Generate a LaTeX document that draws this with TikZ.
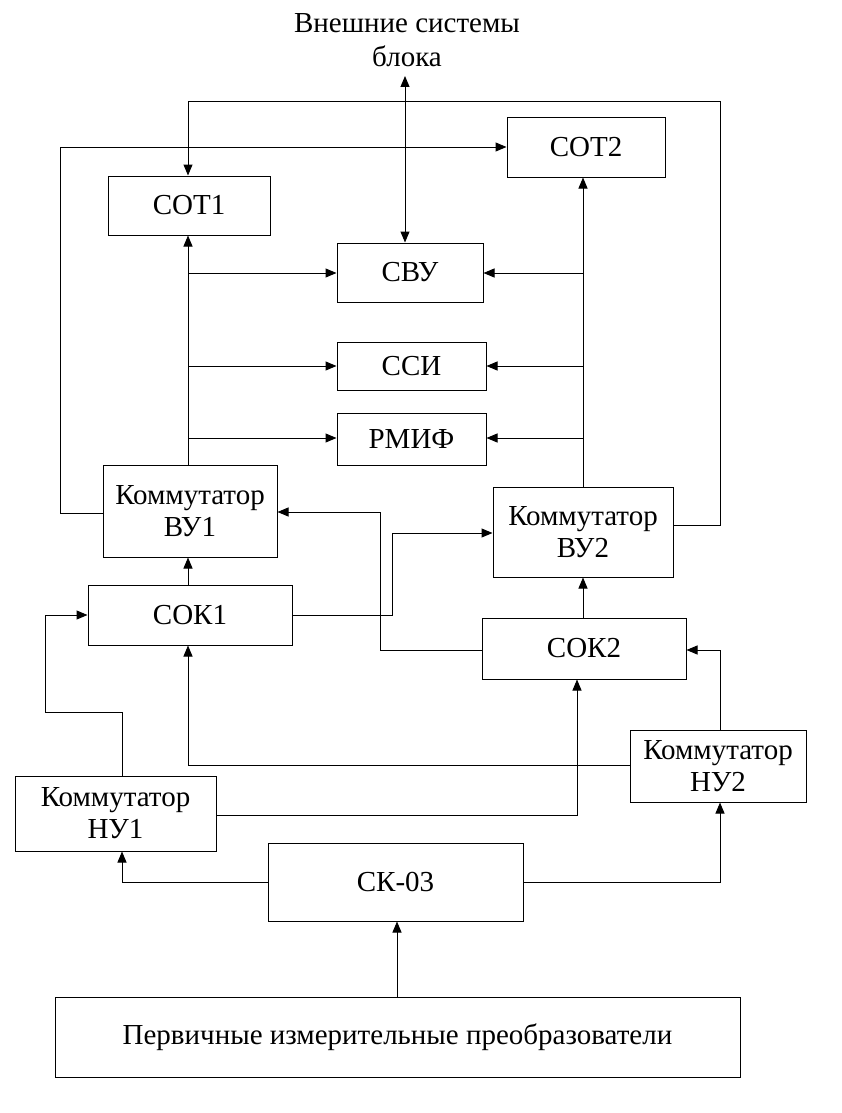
\documentclass[tikz,border=0pt]{standalone}
\usepackage{fontspec}
\setmainfont{Liberation Serif}
\usetikzlibrary{arrows.meta}
\begin{document}
\begin{tikzpicture}[x=1pt,y=-1pt,
  box/.style={draw,line width=1pt,inner sep=0pt,align=center,font=\fontsize{29}{32}\selectfont},
  ln/.style={line width=1pt},
  ar/.style={line width=1pt,-{Triangle[length=11pt,width=9pt]}}]
\useasboundingbox[fill=white] (0,0) rectangle (841,1113);
\newcommand\bx[6]{\node[box,minimum width=#4-#2,minimum height=#5-#3] (#1) at ({(#2+#4)/2},{(#3+#5)/2}) {#6};}
\bx{sot1}{108}{176}{270}{235}{СОТ1}
\bx{sot2}{507}{118}{665}{177}{СОТ2}
\bx{svu}{337}{243}{483}{302}{СВУ}
\bx{ssi}{337}{342}{486}{390}{ССИ}
\bx{rmif}{337}{413}{486}{465}{РМИФ}
\bx{vu1}{103}{465}{277}{557}{Коммутатор\\ВУ1}
\bx{vu2}{493}{487}{673}{577}{Коммутатор\\ВУ2}
\bx{sok1}{88}{585}{292}{645}{СОК1}
\bx{sok2}{482}{618}{686}{679}{СОК2}
\bx{nu2}{630}{730}{806}{802}{Коммутатор\\НУ2}
\bx{nu1}{15}{776}{216}{851}{Коммутатор\\НУ1}
\bx{sk}{268}{843}{523}{921}{СК-03}
\bx{pip}{55}{997}{740}{1077}{Первичные измерительные преобразователи}
\node[font=\fontsize{29}{34}\selectfont,align=center] (ext) at (407,40) {Внешние системы\\блока};
\coordinate (et) at (405,76);
\draw[line width=1pt,{Triangle[length=11pt,width=9pt]}-{Triangle[length=11pt,width=9pt]}] (et) -- (svu.north -| et);
\draw[ar] (vu2.east |- 0,525) -- (720,525) -- (720,102) -- (188,102) -- (sot1.north -| 188,0);
\draw[ar] (vu1.west |- 0,513) -- (60,513) -- (60,147) -- (sot2.west |- 0,147);
\draw[ar] (vu1.north -| 188,0) -- (sot1.south -| 188,0);
\draw[ar] (vu2.north -| 583,0) -- (sot2.south -| 583,0);
\foreach \n/\y in {svu/273,ssi/366,rmif/438}{
  \draw[ar] (188,\y) -- (\n.west |- 0,\y);
  \draw[ar] (583,\y) -- (\n.east |- 0,\y);
}
\draw[ar] (sok1.north -| 188,0) -- (vu1.south -| 188,0);
\draw[ar] (sok2.north -| 583,0) -- (vu2.south -| 583,0);
\draw[ar] (sok1.east |- 0,615) -- (392,615) -- (392,533) -- (vu2.west |- 0,533);
\draw[ar] (sok2.west |- 0,650) -- (380,650) -- (380,512) -- (vu1.east |- 0,512);
\draw[ar] (nu1.north -| 122,0) -- (122,712) -- (45,712) -- (45,615) -- (sok1.west |- 0,615);
\draw[ar] (nu1.east |- 0,815) -- (577,815) -- (sok2.south -| 577,0);
\draw[ar] (nu2.west |- 0,765) -- (188,765) -- (sok1.south -| 188,0);
\draw[ar] (nu2.north -| 720,0) -- (720,650) -- (sok2.east |- 0,650);
\draw[ar] (sk.west |- 0,882) -- (122,882) -- (nu1.south -| 122,0);
\draw[ar] (sk.east |- 0,882) -- (720,882) -- (nu2.south -| 720,0);
\draw[ar] (pip.north -| 397,0) -- (sk.south -| 397,0);
\end{tikzpicture}
\end{document}
